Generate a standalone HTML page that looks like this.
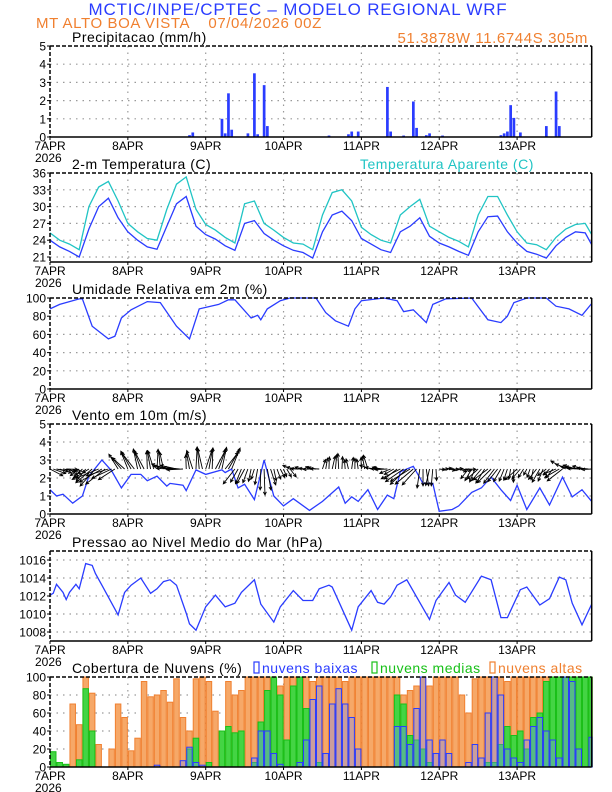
<!DOCTYPE html>
<html><head><meta charset="utf-8"><title>Meteograma WRF</title>
<style>
html,body{margin:0;padding:0;background:#fff;}
svg{display:block;font-family:"Liberation Sans",Arial,sans-serif;}
.tl{font-size:12px;fill:#000;}
.tt{font-size:14px;fill:#000;letter-spacing:0.5px;}
</style></head>
<body>
<svg id="chart" width="612" height="792" viewBox="0 0 612 792" xmlns="http://www.w3.org/2000/svg">
<text x="298" y="15" text-anchor="middle" font-size="17" fill="#2a3cff" letter-spacing="0.8">MCTIC/INPE/CPTEC – MODELO REGIONAL WRF</text>
<text x="36" y="28" font-size="15" fill="#f08030" letter-spacing="0.6" xml:space="preserve">MT ALTO BOA VISTA    07/04/2026 00Z</text>
<text x="588" y="43" text-anchor="end" font-size="15" fill="#f08030" letter-spacing="0.6">51.3878W 11.6744S 305m</text>
<g id="g"></g>
</svg>
<script>
// ---------- data ----------
const dayLabels = ["7APR","8APR","9APR","10APR","11APR","12APR","13APR"];
const precipHours = [43,44,53,54,55,56,61,63,64,66,67,86,92,93,95,104,105,109,112,113,116,117,121,139,140,141,142,143,145,153,156,157];
const precipVals  = [0.1,0.25,1.0,0.2,2.4,0.4,0.2,3.5,0.15,2.85,0.6,0.08,0.15,0.3,0.3,2.75,0.3,0.08,1.95,0.5,0.1,0.2,0.08,0.1,0.2,0.3,1.75,1.05,0.25,0.6,2.5,0.6];
const tempHours = [0,3,6,9,12,15,18,21,24,27,30,33,36,39,42,45,48,51,54,57,60,63,66,69,72,75,78,81,84,87,90,93,96,99,102,105,108,111,114,117,120,123,126,129,132,135,138,141,144,147,150,153,156,159,162,165,168];
const temp2m = [24.0,22.8,22.0,21.0,26.0,30.0,31.5,28.0,25.5,24.0,22.8,22.4,26.5,30.5,31.8,26.5,25.0,24.2,23.0,22.2,27.0,27.5,25.2,24.0,23.0,22.2,21.8,20.8,25.5,28.5,29.2,27.5,24.3,23.3,22.3,21.8,25.5,26.5,28.0,24.7,23.5,22.8,22.0,21.3,25.5,28.2,28.3,25.5,23.5,22.0,21.5,20.8,23.0,24.5,25.5,25.3,23.2];
const tempApparent = [25.3,24.0,23.3,22.3,30.0,33.5,34.5,31.0,27.0,25.5,24.3,24.0,29.5,34.0,35.3,29.5,26.8,25.8,24.5,23.5,30.5,31.0,27.0,25.8,24.5,23.5,23.3,22.3,28.5,32.5,33.0,31.0,26.3,25.0,24.0,23.5,28.5,30.0,31.3,26.5,25.5,24.5,23.8,22.8,28.5,31.8,31.8,28.5,25.5,23.5,23.2,22.3,24.5,26.0,26.8,27.0,25.0];
const rhHours = [0,3,9,10,13,18,20,22,25,30,34,39,43,46,52,55,57,62,64,65,67,71,74,82,85,88,92,94,96,103,107,109,112,116,118,122,130,135,139,141,143,147,153,156,160,164,167];
const rhVals  = [88,93,99,99,69,55,58,78,87,96,95,69,55,88,93,98,98,78,81,76,88,97,100,100,84,75,69,88,97,100,97,85,87,73,93,99,100,76,73,80,95,100,100,91,88,81,94];
const windHours = [0,2,4,7,10,12,16,19,22,25,28,30,33,36,37,41,42,45,48,53,54,56,58,60,63,66,69,72,75,80,84,89,91,93,95,98,101,104,106,108,112,115,118,120,124,126,130,133,136,139,142,144,147,151,154,158,161,164,167];
const windSpeed = [1.35,1.0,1.1,0.6,1.0,2.1,3.0,2.4,1.45,2.2,2.2,1.85,2.1,1.55,1.7,1.6,1.3,2.45,2.2,2.45,2.3,2.5,1.45,1.65,0.8,3.0,1.0,0.45,0.85,0.2,0.7,1.5,0.6,0.95,0.7,1.35,0.25,1.05,0.85,2.35,2.65,1.7,1.7,0.15,0.25,0.45,1.2,1.45,2.05,1.35,0.75,1.6,0.25,1.45,0.5,2.05,0.95,1.35,0.7];
const arrowHours = [0,3,6,9,12,15,18,21,24,27,30,33,36,39,42,45,48,51,54,57,60,63,66,69,72,75,78,81,84,87,90,93,96,99,102,105,108,111,114,117,120,123,126,129,132,135,138,141,144,147,150,153,156,159,162,165];
const arrowDir = [-20,-10,-30,-135,-140,-150,-155,130,120,110,100,95,170,175,100,95,80,70,60,-120,-110,-100,-80,-70,-60,170,175,170,80,85,95,90,100,170,175,-150,-145,-140,-90,-95,0,-5,-10,-120,-130,-135,-120,-100,-130,-110,-120,-135,-150,160,170,175];
const presHours = [0,1,2,4,5,6,8,9,11,13,14,16,21,23,25,28,31,33,35,37,39,42,43,45,48,51,54,57,59,63,65,69,71,75,78,81,83,86,87,93,95,99,101,103,105,107,110,117,119,123,125,128,133,136,139,141,145,147,151,154,157,159,161,164,167];
const presVals  = [1012.1,1012.3,1013.3,1012.4,1011.6,1012.4,1013.3,1012.8,1015.6,1015.4,1014.5,1013.2,1009.9,1012.4,1013.2,1014.0,1012.3,1012.8,1013.6,1013.8,1013.2,1010.1,1008.9,1008.2,1010.8,1012.1,1010.8,1011.2,1012.4,1013.8,1011.1,1009.1,1010.8,1012.6,1011.5,1011.5,1012.8,1013.2,1013.0,1008.2,1010.8,1012.6,1011.3,1011.1,1011.9,1013.2,1013.8,1009.4,1011.5,1013.5,1012.1,1011.3,1014.2,1013.8,1009.6,1009.6,1012.7,1013.0,1011.0,1011.7,1014.1,1013.8,1011.2,1008.8,1011.1];
const cloudHours = [0,2,4,6,8,10,12,14,16,18,20,22,24,26,28,30,32,34,36,38,40,42,44,46,48,50,52,54,56,58,60,62,64,66,68,70,72,74,76,78,80,82,84,86,88,90,92,94,96,98,100,102,104,106,108,110,112,114,116,118,120,122,124,126,128,130,132,134,136,138,140,142,144,146,148,150,152,154,156,158,160,162,164,166];
const cloudHigh = [0,0,0,70,47,100,82,25,0,20,70,55,18,32,95,78,80,85,72,98,55,40,98,100,95,62,40,95,80,85,100,100,100,100,100,90,100,100,100,100,95,100,100,100,100,95,100,100,100,100,100,100,100,100,80,85,90,100,90,100,100,100,100,80,60,98,100,100,98,100,95,100,100,100,100,100,100,100,100,100,100,100,100,100];
const cloudMid  = [17,5,3,0,8,87,40,0,0,0,0,0,0,0,0,0,0,0,0,0,0,20,32,0,5,0,40,45,38,40,0,5,50,85,100,80,30,90,100,65,0,5,0,0,0,0,0,0,0,0,0,0,0,80,70,35,30,20,5,0,0,0,0,0,0,0,0,5,5,25,45,35,40,20,55,60,95,100,100,100,100,100,100,100];
const cloudLow  = [0,0,0,0,0,0,0,0,0,0,0,0,0,0,0,0,2,0,0,0,7,22,5,2,0,0,0,0,0,0,0,10,40,40,15,3,0,0,5,30,75,90,15,70,87,70,55,20,0,0,0,0,0,45,45,25,65,100,30,15,30,15,0,0,5,25,10,60,100,80,20,10,5,30,45,55,40,30,10,100,95,20,0,33];

// ---------- layout ----------
const NS = "http://www.w3.org/2000/svg";
const G = document.getElementById('g');
const X0 = 50, X1 = 591.7, HMAX = 167;
function xs(h){ return X0 + h * (X1 - X0) / HMAX; }
function mk(tag, attrs, parent){
  const e = document.createElementNS(NS, tag);
  for (const k in attrs) e.setAttribute(k, attrs[k]);
  (parent || G).appendChild(e);
  return e;
}
function txt(s, x, y, cls, parent){
  const t = mk('text', {x:x, y:y, class:cls}, parent);
  t.textContent = s; return t;
}
const panels = [
  {name:'precipitation', top:46, bot:137, ymin:0, ymax:5, ticks:[0,1,2,3,4,5], title:'Precipitacao (mm/h)'},
  {name:'temperature', top:173, bot:262, ymin:36-89/5.6, ymax:36, ticks:[21,24,27,30,33,36], title:'2-m Temperatura (C)'},
  {name:'humidity', top:298, bot:389, ymin:0, ymax:100, ticks:[0,20,40,60,80,100], title:'Umidade Relativa em 2m (%)'},
  {name:'wind', top:424, bot:514, ymin:0, ymax:5, ticks:[0,1,2,3,4,5], title:'Vento em 10m (m/s)'},
  {name:'pressure', top:551, bot:641, ymin:1007, ymax:1017, ticks:[1008,1010,1012,1014,1016], title:'Pressao ao Nivel Medio do Mar (hPa)'},
  {name:'clouds', top:677, bot:767, ymin:0, ymax:100, ticks:[0,20,40,60,80,100], title:'Cobertura de Nuvens (%)'}
];
panels.forEach(p => { p.y = v => p.bot - (v - p.ymin) * (p.bot - p.top) / (p.ymax - p.ymin); });

panels.forEach((p, pi) => {
  const pg = mk('g', {});
  
  
  p.g = pg;
  const grid = mk('g', {stroke:'#9a9a9a', 'stroke-width':1.2, 'stroke-dasharray':'1.5 5'}, pg);
  
  
  p.ticks.forEach(t => {
    const yy = p.y(t);
    if (yy > p.top + 1 && yy < p.bot - 1) mk('line', {x1:X0, x2:X1, y1:yy, y2:yy}, grid);
  });
  for (let d = 1; d < 7; d++) mk('line', {x1:xs(d*24), x2:xs(d*24), y1:p.top, y2:p.bot}, grid);
  const yax = mk('g', {}, pg);
  
  
  p.ticks.forEach(t => {
    const yy = p.y(t);
    mk('line', {x1:X0-3, x2:X0, y1:yy, y2:yy, stroke:'#000'}, yax);
    const lb = txt(String(t), X0-4, yy+4.5, 'tl', yax);
    lb.setAttribute('text-anchor', 'end');
  });
  const xax = mk('g', {}, pg);
  
  
  dayLabels.forEach((s, d) => {
    const xx = xs(d*24);
    mk('line', {x1:xx, x2:xx, y1:p.bot, y2:p.bot+3, stroke:'#000'}, xax);
    const lb = txt(s, xx, p.bot+13, 'tl', xax);
    lb.setAttribute('text-anchor', 'middle');
  });
  txt('2026', 35, p.bot+25, 'tl', xax);
  const tt = txt(p.title, 72, p.top-4, 'tt', pg);
  
  
});

function line(p, hs, vs, color, name){
  let d = '';
  hs.forEach((h, i) => { if (h <= HMAX + 1) d += (i ? 'L' : 'M') + Math.min(xs(h), X1).toFixed(1) + ' ' + p.y(vs[i]).toFixed(1); });
  const e = mk('path', {d:d, fill:'none', stroke:color, 'stroke-width':1.3}, p.g);
  
  
}
function interp(hs, vs, h){
  for (let i = 1; i < hs.length; i++) if (h <= hs[i]) {
    const f = (h - hs[i-1]) / (hs[i] - hs[i-1]); return vs[i-1] + f * (vs[i] - vs[i-1]);
  }
  return vs[vs.length-1];
}

const P = panels;
precipHours.forEach((h, i) => {
  const yy = P[0].y(precipVals[i]);
  const b = mk('rect', {x:xs(h)-1.3, y:yy, width:2.7, height:P[0].bot-yy, fill:'#2a3cff'}, P[0].g);
  
  
});
line(P[1], tempHours, tempApparent, '#20c4c4', 'apparent-temperature-line');
line(P[1], tempHours, temp2m, '#2a3cff', 'temperature-line');
const tl = txt('Temperatura Aparente (C)', 360, 169, 'tt', P[1].g);
tl.style.fill = '#20c4c4';


line(P[2], rhHours, rhVals, '#2a3cff', 'humidity-line');
line(P[3], windHours, windSpeed, '#2a3cff', 'wind-speed-line');
const ag = mk('g', {stroke:'#000', 'stroke-width':0.9, fill:'none'}, P[3].g);


arrowHours.forEach((h0, i) => {
  for (let k = 0; k < 3; k++) {
    const h = h0 + k;
    if (h > HMAX) continue;
    const sp = interp(windHours, windSpeed, h);
    const L = 5 + sp * 7, a = (arrowDir[i] + (k - 1) * 8) * Math.PI / 180;
    const x0 = xs(h), y0 = P[3].y(2.5);
    const x1 = x0 + L*Math.cos(a), y1 = y0 - L*Math.sin(a);
    const hl = 3.5, b1 = a + Math.PI - 0.45, b2 = a + Math.PI + 0.45;
    const ar = mk('path', {d:`M${x0} ${y0}L${x1} ${y1}M${x1+hl*Math.cos(b1)} ${y1-hl*Math.sin(b1)}L${x1} ${y1}L${x1+hl*Math.cos(b2)} ${y1-hl*Math.sin(b2)}`}, ag);
    
    
  }
});
line(P[4], presHours, presVals, '#2a3cff', 'pressure-line');
const cw = xs(2) - xs(0);
function bars(vals, fill, stroke, name){
  cloudHours.forEach((h, i) => {
    if (vals[i] <= 0) return;
    const yy = P[5].y(vals[i]);
    const w = Math.min(cw - 1, X1 - xs(h));
    const b = mk('rect', {x:xs(h)+0.5, y:yy, width:w, height:P[5].bot-yy, fill:fill, stroke:stroke, 'stroke-width':1}, P[5].g);
    
    
  });
}
bars(cloudHigh, '#f6a868', '#f08030', 'high-cloud-bar');
bars(cloudMid, '#44d444', '#18c018', 'medium-cloud-bar');
bars(cloudLow, 'rgba(120,140,255,0.35)', '#2a3cff', 'low-cloud-bar');
const lg = mk('g', {}, P[5].g);


[['nuvens baixas', '#2a3cff', 254], ['nuvens medias', '#18c018', 372], ['nuvens altas', '#f08030', 490]].forEach(e => {
  const r = mk('rect', {x:e[2], y:662, width:5, height:11, fill:'none', stroke:e[1], 'stroke-width':1.2}, lg);
  
  
  const t = txt(e[0], e[2]+8, 673, 'tt', lg);
  t.style.fill = e[1];
  
  
});
panels.forEach(p => {
  const f = mk('g', {stroke:'#000', 'stroke-width':1.5, fill:'none'}, p.g);
  
  
  mk('line', {x1:X0, x2:X1, y1:p.top, y2:p.top, 'stroke-dasharray':'4 2'}, f);
  mk('line', {x1:X0, x2:X0, y1:p.top, y2:p.bot, 'stroke-dasharray':'4 2'}, f);
  mk('line', {x1:X0, x2:X1, y1:p.bot, y2:p.bot}, f);
  mk('line', {x1:X1, x2:X1, y1:p.top, y2:p.bot}, f);
});
</script>
</body></html>
